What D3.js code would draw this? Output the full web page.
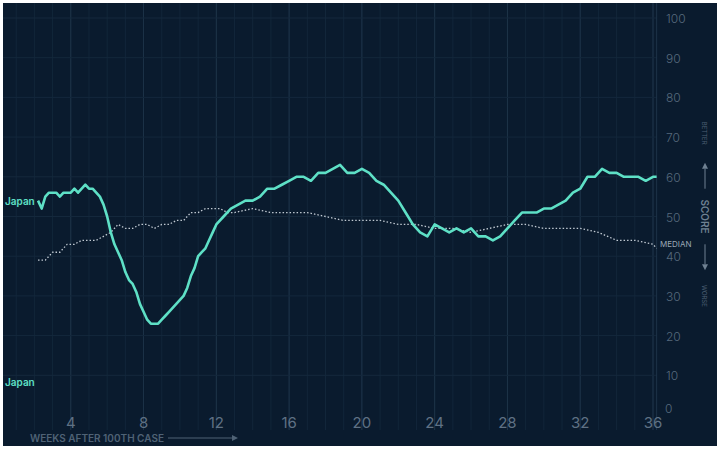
<!DOCTYPE html><html><head><meta charset="utf-8"><script src="https://cdn.jsdelivr.net/npm/d3@7"></script>
<style>body{margin:0;background:#fff}text{font-family:Inter,"Noto Sans",sans-serif}</style></head><body><svg id="c" width="720" height="450"></svg><script>
const weekTicks=[4,8,12,16,20,24,28,32,36];
const scoreTicks=[0,10,20,30,40,50,60,70,80,90,100];
const japanWeeks=[2.2,2.4,2.6,2.8,3.0,3.2,3.4,3.6,3.8,4.0,4.2,4.4,4.6,4.8,5.0,5.2,5.4,5.6,5.8,6.0,6.2,6.4,6.6,6.8,7.0,7.2,7.4,7.6,7.8,8.0,8.2,8.4,8.6,8.8,9.0,9.2,9.4,9.6,9.8,10.0,10.2,10.4,10.6,10.8,11.0,11.2,11.4,11.6,11.8,12,12.4,12.8,13.2,13.6,14,14.4,14.8,15.2,15.6,16,16.4,16.8,17.2,17.6,18,18.4,18.8,19.2,19.6,20,20.4,20.8,21.2,21.6,22,22.4,22.8,23.2,23.6,24,24.4,24.8,25.2,25.6,26,26.4,26.8,27.2,27.6,28,28.4,28.8,29.2,29.6,30,30.4,30.8,31.2,31.6,32,32.4,32.8,33.2,33.6,34,34.4,34.8,35.2,35.6,36.0,36.2];
const japanScores=[54,52,55,56,56,56,55,56,56,56,57,56,57,58,57,57,56,55,53,50,46,43,41,39,36,34,33,31,28,26,24,23,23,23,24,25,26,27,28,29,30,32,35,37,40,41,42,44,46,48,50,52,53,54,54,55,57,57,58,59,60,60,59,61,61,62,63,61,61,62,61,59,58,56,54,51,48,46,45,48,47,46,47,46,47,45,45,44,45,47,49,51,51,51,52,52,53,54,56,57,60,60,62,61,61,60,60,60,59,60,60];
const medianWeeks=[2.2,2.6,3,3.4,3.8,4.2,4.6,5,5.4,5.8,6.2,6.6,7,7.4,7.8,8.2,8.6,9,9.4,9.8,10.2,10.6,11,11.4,11.8,12.2,12.6,13,14,15,16,17,18,19,20,21,22,23,24,25,26,27,28,29,30,31,32,33,34,35,36,36.2];
const medianScores=[39,39,41,41,43,43,44,44,44,45,46,48,47,47,48,48,47,48,48,49,49,51,51,52,52,52,51,51,52,51,51,51,50,49,49,49,48,48,47,47,46,47,48,48,47,47,47,46,44,44,43,42];

const svg=d3.select("#c");
svg.append("rect").attr("x",3).attr("y",3).attr("width",714).attr("height",443).attr("fill","#0a1b2e");
const x=d3.scaleLinear().domain([0,36]).range([-2,653]);
const y=d3.scaleLinear().domain([0,100]).range([415,18]);
const g=svg.append("g");
g.selectAll(".vm").data(d3.range(1,37)).join("line").attr("x1",d=>x(d)).attr("x2",d=>x(d)).attr("y1",3).attr("y2",430).attr("stroke","#12263a");
g.selectAll(".vM").data(weekTicks).join("line").attr("x1",d=>x(d)).attr("x2",d=>x(d)).attr("y1",3).attr("y2",430).attr("stroke","#1d3348");
g.selectAll(".h").data(scoreTicks.slice(1)).join("line").attr("x1",3).attr("x2",657).attr("y1",d=>y(d)).attr("y2",d=>y(d)).attr("stroke","#14283c");
g.append("line").attr("x1",x(36.2)).attr("x2",x(36.2)).attr("y1",3).attr("y2",430).attr("stroke","#1d3348");
g.selectAll(".xt").data(weekTicks).join("text").attr("x",d=>x(d)).attr("y",428).attr("text-anchor","middle").attr("fill","#5f7184").attr("font-size",15).text(d=>d);
g.selectAll(".yt").data(scoreTicks).join("text").attr("x",d=>d===0?665:666).attr("y",d=>y(d)+(d===0?-2:5)).attr("fill","#56697c").attr("font-size",12).attr("font-weight",300).text(d=>d);
const lineGen=d3.line().x(d=>x(d[0])).y(d=>y(d[1]));
g.append("path").datum(medianWeeks.map((w,i)=>[w,medianScores[i]])).attr("d",lineGen).attr("fill","none").attr("stroke","#c0c9d2").attr("stroke-width",1.3).attr("stroke-dasharray","1.5,2");
g.append("path").datum(japanWeeks.map((w,i)=>[w,japanScores[i]])).attr("d",lineGen).attr("fill","none").attr("stroke","#5ee0c6").attr("stroke-width",2.6).attr("stroke-linejoin","round");
g.append("text").attr("x",5).attr("y",y(54)+4).attr("fill","#5ee0c6").attr("font-size",10).attr("font-weight",600).text("Japan");
g.append("text").attr("x",5).attr("y",y(8)+3).attr("fill","#5ee0c6").attr("font-size",10).attr("font-weight",600).text("Japan");
g.append("text").attr("x",660).attr("y",y(43)+3).attr("fill","#9aa8b5").attr("font-size",8).text("MEDIAN");
g.append("text").attr("x",30).attr("y",442).attr("fill","#4f6275").attr("font-size",10).attr("font-weight",600).text("WEEKS AFTER 100TH CASE");
g.append("line").attr("x1",168).attr("x2",232).attr("y1",438).attr("y2",438).attr("stroke","#4f6275");
g.append("path").attr("d","M232,435L238,438L232,441Z").attr("fill","#4f6275");
const sx=705;
g.append("text").attr("transform",`translate(${sx-4},${y(50)}) rotate(90)`).attr("text-anchor","middle").attr("fill","#6f8192").attr("font-size",10).attr("font-weight",600).text("SCORE");
g.append("text").attr("transform",`translate(${sx-3},${y(71)}) rotate(90)`).attr("text-anchor","middle").attr("fill","#4f6275").attr("font-size",6).text("BETTER");
g.append("text").attr("transform",`translate(${sx-3},${y(30)}) rotate(90)`).attr("text-anchor","middle").attr("fill","#4f6275").attr("font-size",6).text("WORSE");
g.append("line").attr("x1",sx).attr("x2",sx).attr("y1",y(62)).attr("y2",y(57)).attr("stroke","#6f8192");
g.append("path").attr("d",`M${sx-3},${y(62)}L${sx},${y(62)-6}L${sx+3},${y(62)}Z`).attr("fill","#6f8192");
g.append("line").attr("x1",sx).attr("x2",sx).attr("y1",y(43)).attr("y2",y(38)).attr("stroke","#6f8192");
g.append("path").attr("d",`M${sx-3},${y(38)}L${sx},${y(38)+6}L${sx+3},${y(38)}Z`).attr("fill","#6f8192");
</script></body></html>
